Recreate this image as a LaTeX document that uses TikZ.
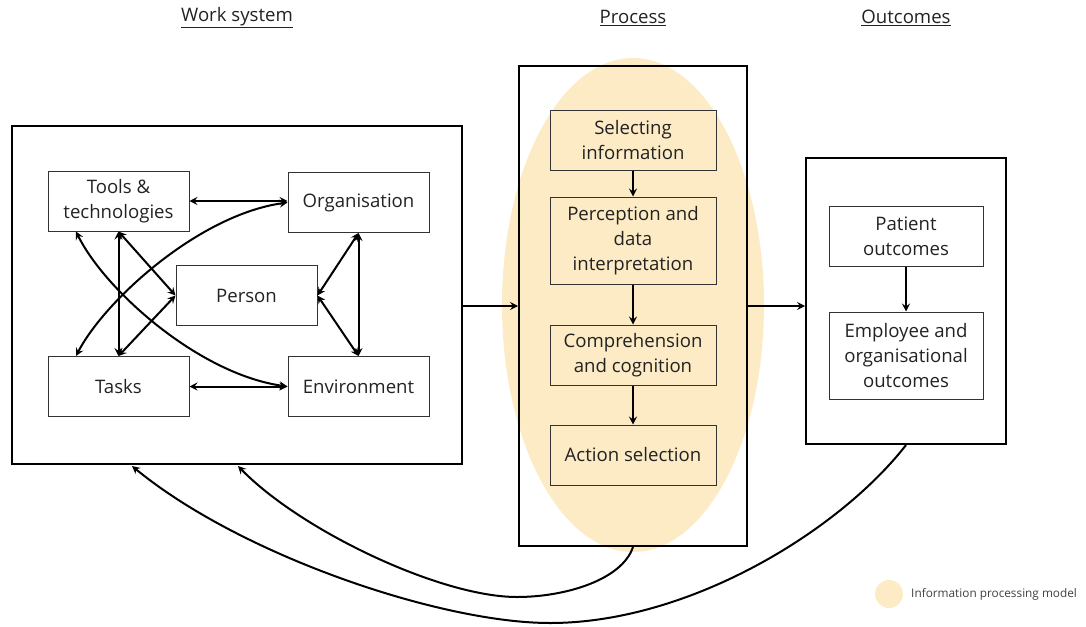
\documentclass[tikz,border=0pt]{standalone}
\usepackage{fontspec}
\setmainfont{Open Sans}
\usetikzlibrary{arrows.meta}
\definecolor{ipm}{HTML}{FCEBC5}
\definecolor{txt}{HTML}{222222}
\newcommand{\bfs}{\fontsize{18.6pt}{25pt}\selectfont}
\begin{document}
\begin{tikzpicture}[x=1pt,y=-1pt,
  inbox/.style={draw=black!80, line width=1pt, inner sep=0pt, align=center,
    font=\bfs, text=txt, minimum width=141pt, minimum height=60pt},
  pbox/.style={inbox, minimum width=166pt},
  obox/.style={inbox, minimum width=154pt},
  outer/.style={draw=black, line width=2pt, inner sep=0pt},
  title/.style={font=\bfs, text=txt, inner sep=0pt},
  arr/.style={line width=2pt, -{Stealth[length=8pt,width=8pt,inset=3pt]}},
  darr/.style={line width=2pt, {Stealth[length=8pt,width=8pt,inset=3pt]}-{Stealth[length=8pt,width=8pt,inset=3pt]}}]
\useasboundingbox (0,0) rectangle (1086,626);

% titles
\node[title] (t1) at (237,18) {\underline{Work system}};
\node[title] (t2) at (633,18) {\underline{Process}};
\node[title] (t3) at (906,18) {\underline{Outcomes}};

% ellipse
\fill[ipm] (633,305) ellipse [x radius=131, y radius=247];

% outer boxes
\node[outer, minimum width=450pt, minimum height=338pt] (ws) at (237,295) {};
\node[outer, minimum width=228pt, minimum height=480pt] (proc) at (633,306) {};
\node[outer, minimum width=200pt, minimum height=286pt] (out) at (906,301) {};

% work system nodes
\node[inbox] (tools) at (118.5,201) {Tools \&\\technologies};
\node[inbox] (org) at (358.5,202.5) {Organisation};
\node[inbox] (person) at (246.5,295.5) {Person};
\node[inbox] (tasks) at (118.5,386.5) {Tasks};
\node[inbox] (env) at (358.5,386.5) {Environment};

\draw[darr] (tools.east) -- (tools.east -| org.west);
\draw[darr] (tasks.east) -- (env.west);
\draw[darr] (tools.south) -- (tasks.north);
\draw[darr] (org.south) -- (env.north);
\draw[darr] (tools.south) -- (person.west);
\draw[darr] (tasks.north) -- (person.west);
\draw[darr] (org.south) -- (person.east);
\draw[darr] (env.north) -- (person.east);
\draw[darr] ([xshift=-42.5pt]tools.south) .. controls +(29,59) and +(-88,-12) .. (env.west);
\draw[darr] ([xshift=-42.5pt]tasks.north) .. controls +(29,-56) and +(-88,12) .. (org.west);

% process nodes
\node[pbox] (sel) at (633,140) {Selecting\\information};
\node[pbox, minimum height=87pt] (perc) at (633,240.5) {Perception and\\data\\interpretation};
\node[pbox] (comp) at (633,355) {Comprehension\\and cognition};
\node[pbox] (act) at (633,455) {Action selection};
\draw[arr] (sel.south) -- (perc.north);
\draw[arr] (perc.south) -- (comp.north);
\draw[arr] (comp.south) -- (act.north);

% outcomes nodes
\node[obox] (pat) at (906,236) {Patient\\outcomes};
\node[obox, minimum height=87pt] (emp) at (906,355.5) {Employee and\\organisational\\outcomes};
\draw[arr] (pat.south) -- (emp.north);

% main flow
\draw[arr] (ws.east |- proc.west) -- (proc.west);
\draw[arr] (proc.east) -- (proc.east -| out.west);

% feedback loops
\coordinate (innertip) at ([xshift=1pt]ws.south);
\coordinate (outertip) at ([xshift=-105pt]ws.south);
\coordinate (innerlow) at (517,597);
\coordinate (outerlow) at (550,623);
\draw[line width=2pt] (proc.south) .. controls (622,580) and (565,597) .. (innerlow);
\draw[arr] (innerlow) .. controls (440,597) and (300,530) .. ([yshift=-1pt]innertip);
\draw[line width=2pt] (out.south) .. controls (840,530) and (690,623) .. (outerlow);
\draw[arr] (outerlow) .. controls (440,623) and (240,555) .. ([yshift=-1pt]outertip);

% legend
\fill[ipm] (889,594) circle (14);
\node[anchor=west, inner sep=0pt, font=\fontsize{11.8pt}{14pt}\selectfont, text=black!75] (leg) at (911,594) {Information processing model};
\end{tikzpicture}
\end{document}
